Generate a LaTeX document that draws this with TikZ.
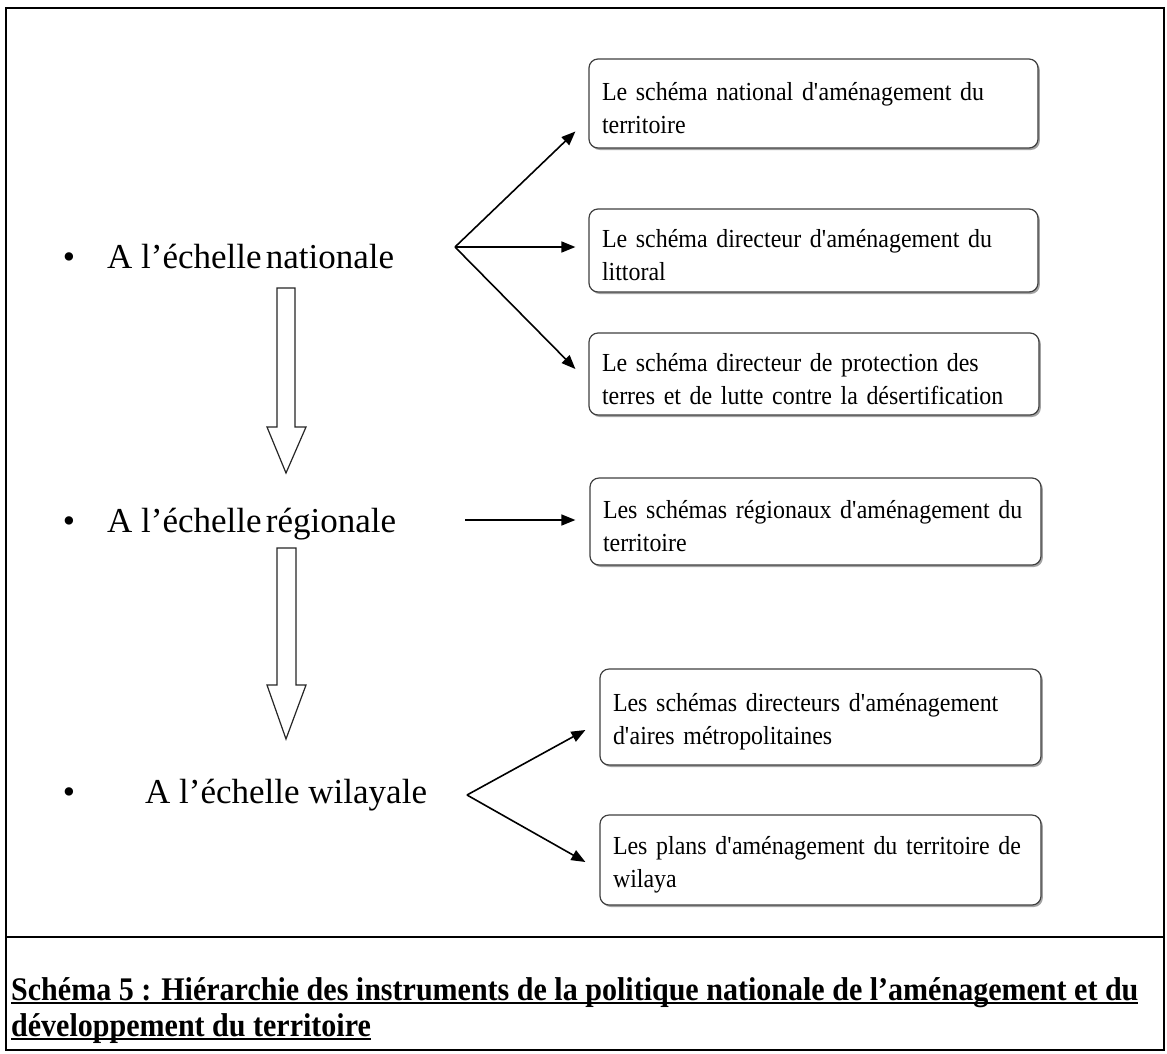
\documentclass[tikz,border=0pt]{standalone}
\usepackage{fontspec}
\setmainfont{Liberation Serif}
\newfontfamily\capfont[FakeStretch=0.91]{Liberation Serif}
\newfontfamily\boxfont[FakeStretch=0.92]{Liberation Serif}
\usetikzlibrary{arrows.meta,calc,shadows}
\newcommand\myul[1]{\setbox0\hbox{#1}\rlap{\rule[-4pt]{\wd0}{2.4pt}}\box0}
\newcommand\q{\textquotesingle}
\newcommand\btext[2]{\raisebox{-5pt}[\height][\depth]{\parbox{#1}{\rightskip=0pt\relax\parfillskip=0pt plus 1fil\relax #2}}}
\begin{document}
\begin{tikzpicture}[x=1pt,y=-1pt,
  ibox/.style={draw=black!75, line width=1.2pt, rounded corners=9pt, fill=white,
     drop shadow={shadow xshift=1.8pt, shadow yshift=-2pt, fill=black!45, opacity=.8},
     inner xsep=13pt, inner ysep=0pt, align=left,
     font=\boxfont\fontsize{26}{33}\selectfont},
  big/.style={font=\fontsize{35}{40}\selectfont, inner sep=0pt, anchor=base west},
  dot/.style={font=\fontsize{35}{40}\selectfont, inner sep=0pt, anchor=base},
  conn/.style={line width=1.6pt, -{Triangle[length=14pt,width=11pt]}},
  hollow/.style={draw=black!85, line width=1.2pt, fill=white, line join=miter}]
\useasboundingbox (0,0) rectangle (1167,1053);
\fill[white] (0,0) rectangle (1167,1053);
% frame
\draw[line width=1.3pt] (6,8) rectangle (1164,1050);
\draw[line width=1.3pt] (6,937) -- (1164,937);

% boxes
\node[ibox, minimum width=449pt, minimum height=89pt, text width=423pt] (b1) at (813.5,103.5)
  {\btext{400pt}{Le schéma national d\q aménagement du territoire}};
\node[ibox, minimum width=449pt, minimum height=83pt, text width=423pt] (b2) at (813.5,250.5)
  {\btext{400pt}{Le schéma directeur d\q aménagement du littoral}};
\node[ibox, minimum width=450pt, minimum height=82pt, text width=424pt] (b3) at (814,374)
  {\btext{410pt}{Le schéma directeur de protection des terres et de lutte contre la désertification}};
\node[ibox, minimum width=451pt, minimum height=87pt, text width=425pt] (b4) at (815.5,521.5)
  {\btext{425pt}{Les schémas régionaux d\q aménagement du territoire}};
\node[ibox, minimum width=441pt, minimum height=96pt, text width=415pt] (b5) at (820.5,717)
  {\btext{395pt}{Les schémas directeurs d\q aménagement d\q aires métropolitaines}};
\node[ibox, minimum width=441pt, minimum height=90pt, text width=415pt] (b6) at (820.5,860)
  {\btext{415pt}{Les plans d\q aménagement du territoire de wilaya}};

% left labels
\node[dot] (d1) at (69,268) {•};
\node[big] (t1) at (107,268) {A l’échelle\hspace{0.12em}nationale};
\node[dot] (d2) at (69,532) {•};
\node[big] (t2) at (107,532) {A l’échelle\hspace{0.12em}régionale};
\node[dot] (d3) at (69,803) {•};
\node[big] (t3) at (145,803) {A l’échelle wilayale};

% block arrows
\draw[hollow] (277,288) -- (295,288) -- (295,427) -- (306,427) -- (286,473) -- (267,427) -- (277,427) -- cycle;
\draw[hollow] (277,548) -- (296,548) -- (296,685) -- (306,685) -- (286,739) -- (267,685) -- (277,685) -- cycle;

% connectors
\coordinate (n0) at (455,247);
\draw[conn] (n0) -- ($(b1.west)+(-13,28)$);
\draw[conn] (n0) -- ($(b2.west)+(-13,-3.5)$);
\draw[conn] (n0) -- ($(b3.west)+(-13,-5)$);
\coordinate (r0) at (465,520);
\draw[conn] (r0) -- ($(b4.west)+(-14,-1.5)$);
\coordinate (w0) at (467,795);
\draw[conn] (w0) -- ($(b5.west)+(-14,13)$);
\draw[conn] (w0) -- ($(b6.west)+(-14,2)$);

% caption
\node[anchor=base west, inner sep=0pt, font=\capfont\bfseries\fontsize{33}{38}\selectfont] (c1) at (11,1000)
  {\myul{Schéma 5 : Hiérarchie des instruments de la politique nationale de l’aménagement et du}};
\node[anchor=base west, inner sep=0pt, font=\capfont\bfseries\fontsize{33}{38}\selectfont] (c2) at (11,1036)
  {\myul{développement du territoire}};
\end{tikzpicture}
\end{document}
